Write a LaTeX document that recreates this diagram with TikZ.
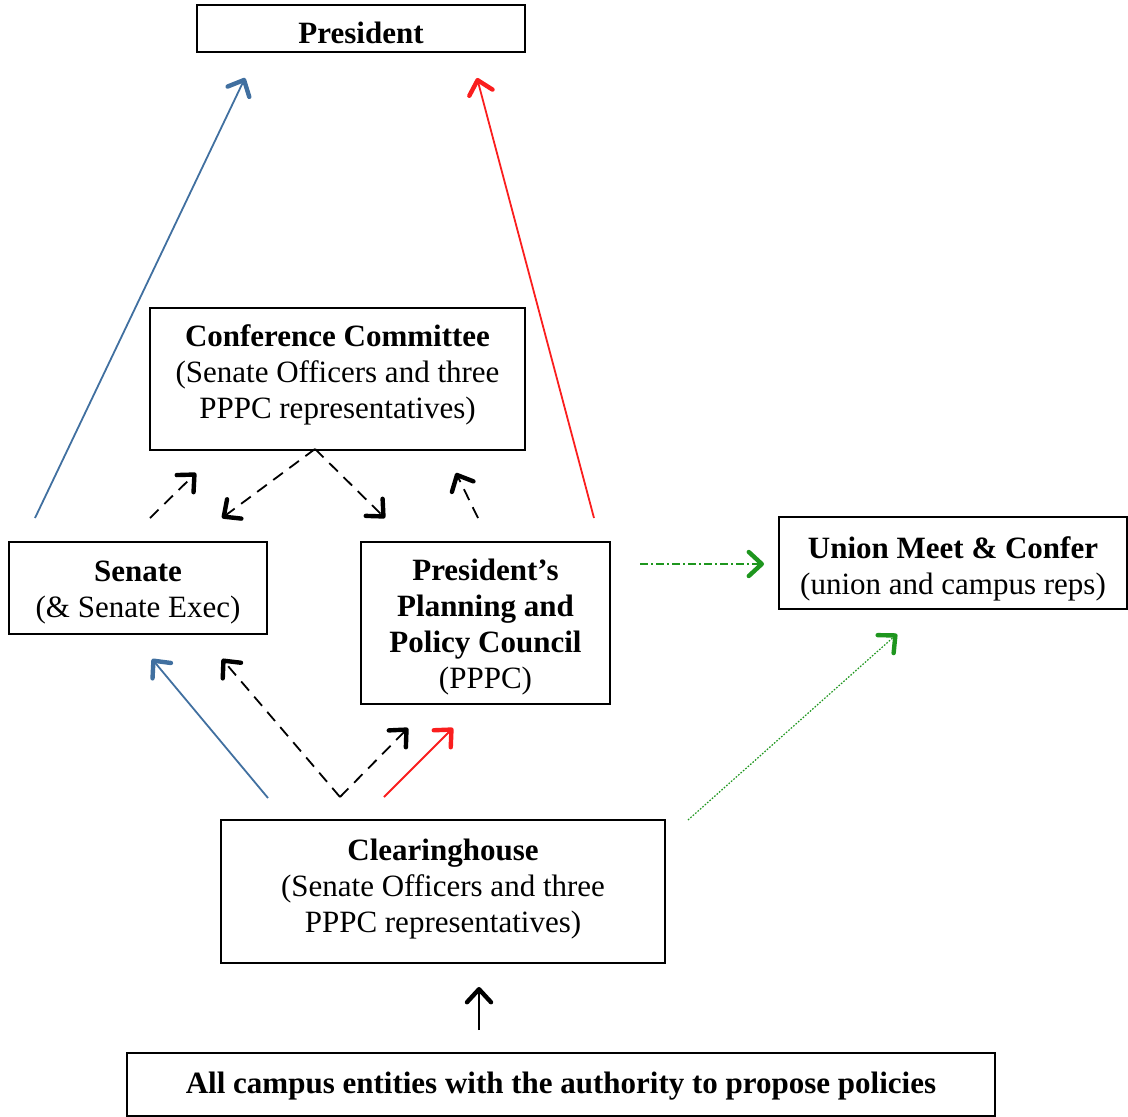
\documentclass[tikz,border=0pt]{standalone}
\usepackage{fontspec}
\setmainfont{Liberation Serif}
\usetikzlibrary{arrows.meta}
\definecolor{cblue}{RGB}{65,112,160}
\definecolor{cred}{RGB}{250,30,30}
\definecolor{cgreen}{RGB}{30,150,30}
\newcommand{\lowtxt}[2]{\raisebox{-#1}[\height][\depth]{\begin{tabular}{@{}c@{}}#2\end{tabular}}}
\begin{document}
\begin{tikzpicture}[x=0.5pt,y=-0.5pt,
  box/.style={draw,line width=0.9pt,align=center,inner sep=0pt,
    font=\fontsize{15.5}{18}\selectfont},
  tip/.style={arrows={-Straight Barb[length=6.5pt,width=12pt,line width=2.2pt 0,round]}},
  conn/.style={tip,line width=0.9pt},
  dashconn/.style={tip,line width=0.9pt,dash pattern=on 6pt off 4pt},
]
\useasboundingbox (0,0) rectangle (1128,1117);
% boxes
\node[box,minimum width=164pt,minimum height=23.5pt] (pres) at (361,28.5)
  {\lowtxt{4pt}{\textbf{President}}};
\node[box,minimum width=187.5pt,minimum height=71pt] (conf) at (337.5,379)
  {\lowtxt{-2pt}{\textbf{Conference Committee}\\(Senate Officers and three\\PPPC representatives)}};
\node[box,minimum width=129pt,minimum height=46pt] (sen) at (138,588)
  {\lowtxt{2pt}{\textbf{Senate}\\(\& Senate Exec)}};
\node[box,minimum width=124.5pt,minimum height=81pt] (pppc) at (485.5,623)
  {\lowtxt{2pt}{\textbf{President’s}\\\textbf{Planning and}\\\textbf{Policy Council}\\(PPPC)}};
\node[box,minimum width=174pt,minimum height=46pt] (union) at (953,563)
  {\lowtxt{3pt}{\textbf{Union Meet \& Confer}\\(union and campus reps)}};
\node[box,minimum width=222pt,minimum height=71.5pt] (clear) at (443,891.5)
  {\lowtxt{-1pt}{\textbf{Clearinghouse}\\(Senate Officers and three\\PPPC representatives)}};
\node[box,minimum width=434pt,minimum height=31.5pt] (all) at (561,1084.5)
  {\lowtxt{1pt}{\textbf{All campus entities with the authority to propose policies}}};
% connector end points
\coordinate (b1s) at (35,518);   \coordinate (b1e) at (245,78);
\coordinate (r1s) at (594,518);  \coordinate (r1e) at (477,78);
\coordinate (d1s) at (150,518);  \coordinate (d1e) at (196,473);
\coordinate (vtop) at (315,449);
\coordinate (d2e) at (222,518);  \coordinate (d3e) at (385,518);
\coordinate (d4s) at (478,518);  \coordinate (d4e) at (456,473);
\coordinate (g1s) at (640,564);  \coordinate (g1e) at (764,564);
\coordinate (b2s) at (268,798);  \coordinate (b2e) at (152,659);
\coordinate (vbot) at (340,797);
\coordinate (d5e) at (222,659);  \coordinate (d6e) at (408,728);
\coordinate (r2s) at (384,797);  \coordinate (r2e) at (453,728);
\coordinate (g2s) at (688,820);  \coordinate (g2e) at (897,634);
\coordinate (k1s) at (479,1030); \coordinate (k1e) at (479,987);
% connectors
\draw[conn,cblue] (b1s) -- (b1e);
\draw[conn,cred] (r1s) -- (r1e);
\draw[dashconn] (d1s) -- (d1e);
\draw[dashconn] (vtop) -- (d2e);
\draw[dashconn] (vtop) -- (d3e);
\draw[dashconn] (d4s) -- (d4e);
\draw[tip,cgreen,line width=0.6pt,dash pattern=on 4pt off 1.5pt on 1pt off 1.5pt] (g1s) -- (g1e);
\draw[conn,cblue] (b2s) -- (b2e);
\draw[dashconn] (vbot) -- (d5e);
\draw[dashconn] (vbot) -- (d6e);
\draw[conn,cred] (r2s) -- (r2e);
\draw[tip,cgreen,line width=0.6pt,dash pattern=on 0.8pt off 0.8pt] (g2s) -- (g2e);
\draw[conn] (k1s) -- (k1e);
\end{tikzpicture}
\end{document}
